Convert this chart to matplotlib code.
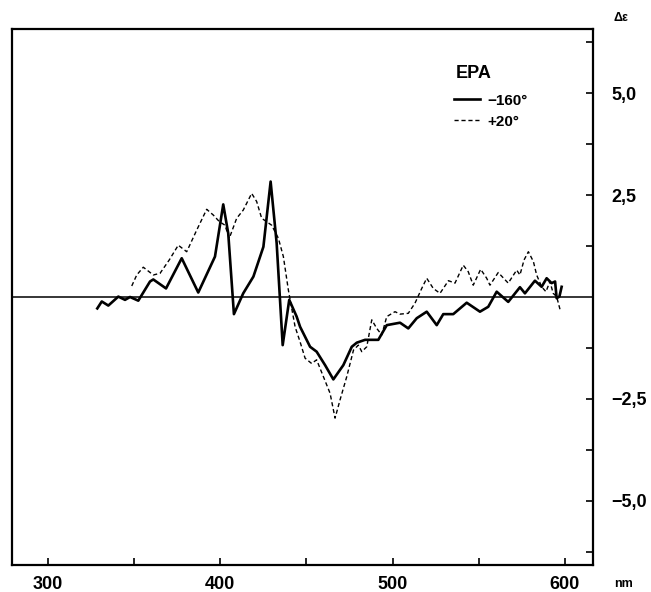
import numpy as np
import matplotlib.pyplot as plt

# wavelength (nm) and delta epsilon
solid_nm = [328.6, 331.2, 335, 340.8, 344.7, 347.6, 352.4, 359.2, 361.1, 368.5,
            377.6, 387.2, 396.9, 401.7, 404.6, 407.9, 413.3, 419.2, 425, 429.2,
            432.7, 436.2, 440, 444.3, 446.3, 452.1, 455.9, 460.8, 465.6, 471.4,
            476.3, 479.2, 484, 487.9, 491.7, 496.6, 504.3, 509.1, 514, 519.8,
            525.6, 529.4, 535.2, 543, 550.7, 555.5, 560.4, 567.1, 573.9, 576.8,
            582.6, 586.5, 589.4, 592.3, 594.3, 595.2, 596.8, 598.1]
solid_de = [-0.28, -0.11, -0.21, 0.01, -0.07, 0.0, -0.09, 0.38, 0.43, 0.21,
            0.95, 0.11, 0.99, 2.27, 1.56, -0.42, 0.09, 0.5, 1.23, 2.83,
            1.32, -1.18, -0.07, -0.48, -0.73, -1.22, -1.34, -1.67, -2.02, -1.67,
            -1.22, -1.12, -1.05, -1.05, -1.05, -0.69, -0.63, -0.77, -0.52, -0.36,
            -0.69, -0.42, -0.42, -0.14, -0.36, -0.24, 0.13, -0.12, 0.24, 0.09,
            0.4, 0.25, 0.46, 0.34, 0.38, -0.03, 0.01, 0.25]

dash_nm = [348.6, 351.5, 355.3, 361.1, 365, 370.4, 375.6, 380.5, 386.3, 392.1,
           395.9, 399.4, 402.7, 405.2, 409.5, 413.3, 418.2, 421.1, 424, 429.8,
           433.7, 436.6, 439.5, 443.4, 446.3, 449.2, 453, 455.9, 459.8, 463.7,
           466.6, 469.5, 473.4, 477.3, 480.1, 482.1, 485, 487.9, 490.8, 493.7,
           496.6, 501.4, 504.3, 509.1, 513, 516.9, 519.8, 523.6, 527.5, 532.4,
           536.2, 541, 543.9, 546.8, 551.1, 554.6, 556.5, 561.3, 567.1, 572,
           573.9, 576.3, 578.8, 581.7, 583.6, 586.5, 589, 591.3, 593.2, 595.2,
           597.5]
dash_de = [0.27, 0.54, 0.73, 0.54, 0.58, 0.91, 1.27, 1.11, 1.64, 2.15,
           2.01, 1.85, 1.76, 1.44, 1.93, 2.13, 2.54, 2.34, 1.93, 1.76,
           1.44, 0.99, 0.17, -0.73, -1.1, -1.5, -1.63, -1.54, -1.95, -2.36,
           -2.97, -2.52, -1.95, -1.3, -1.18, -1.34, -1.22, -0.56, -0.77, -0.93,
           -0.48, -0.36, -0.42, -0.4, -0.15, 0.21, 0.46, 0.21, 0.09, 0.4,
           0.34, 0.78, 0.62, 0.29, 0.68, 0.46, 0.29, 0.6, 0.34, 0.66,
           0.54, 0.91, 1.11, 0.87, 0.54, 0.25, 0.13, 0.38, 0.09, 0.01,
           -0.36]

x_ticks = [300, 400, 500, 600]
x_minor = [350, 450, 550]
x_labels = ["300", "400", "500", "600"]
y_ticks = [5.0, 2.5, -2.5, -5.0]
y_labels = ["5,0", "2,5", "\u22122,5", "\u22125,0"]
y_minor = [6.25, 3.75, 1.25, -1.25, -3.75, -6.25]

plt.rcParams['font.family'] = ['Liberation Sans', 'DejaVu Sans']

fig = plt.figure(figsize=(6.51, 5.92), dpi=100)
ax = fig.add_axes([12/651, 1-565/592, 581/651, 536/592])

ax.axhline(0, color='black', lw=1.1)
l1, = ax.plot(solid_nm, solid_de, color='black', lw=1.9, label='\u2212160\u00b0')
l2, = ax.plot(dash_nm, dash_de, color='black', lw=1.0, ls=(0, (3, 2)),
              label='+20\u00b0')

ax.set_xlim(279.1, 616.3)
ax.set_ylim(-6.57, 6.57)

for s in ax.spines.values():
    s.set_linewidth(1.6)

ax.set_xticks(x_ticks)
ax.set_xticklabels(x_labels, fontsize=13, fontweight='bold')
ax.set_xticks(x_minor, minor=True)
ax.tick_params(axis='x', which='both', direction='in', length=5, width=1.2,
               pad=8)

ax.yaxis.tick_right()
ax.set_yticks(y_ticks)
ax.set_yticklabels(y_labels, fontsize=13, fontweight='bold')
ax.set_yticks(y_minor, minor=True)
ax.tick_params(axis='y', which='both', direction='in', length=5, width=1.2,
               pad=13)

fig.text(613/651, 1-18/592, "\u0394\u03b5", fontsize=9, fontweight='bold',
         va='center', ha='left')
fig.text(614/651, 1-584/592, "nm", fontsize=9, fontweight='bold',
         va='center', ha='left')

fig.text(474/651, 1-73/592, "EPA", fontsize=13, fontweight='bold',
         va='center', ha='center')
ax.legend(handles=[l1, l2], frameon=False,
          loc='upper left', bbox_to_anchor=(428/581, 1-(80-29)/536),
          prop={'size': 11, 'weight': 'bold'}, handlelength=1.7,
          handletextpad=0.5, labelspacing=0.45)

fig.savefig('out.png', dpi=100)
